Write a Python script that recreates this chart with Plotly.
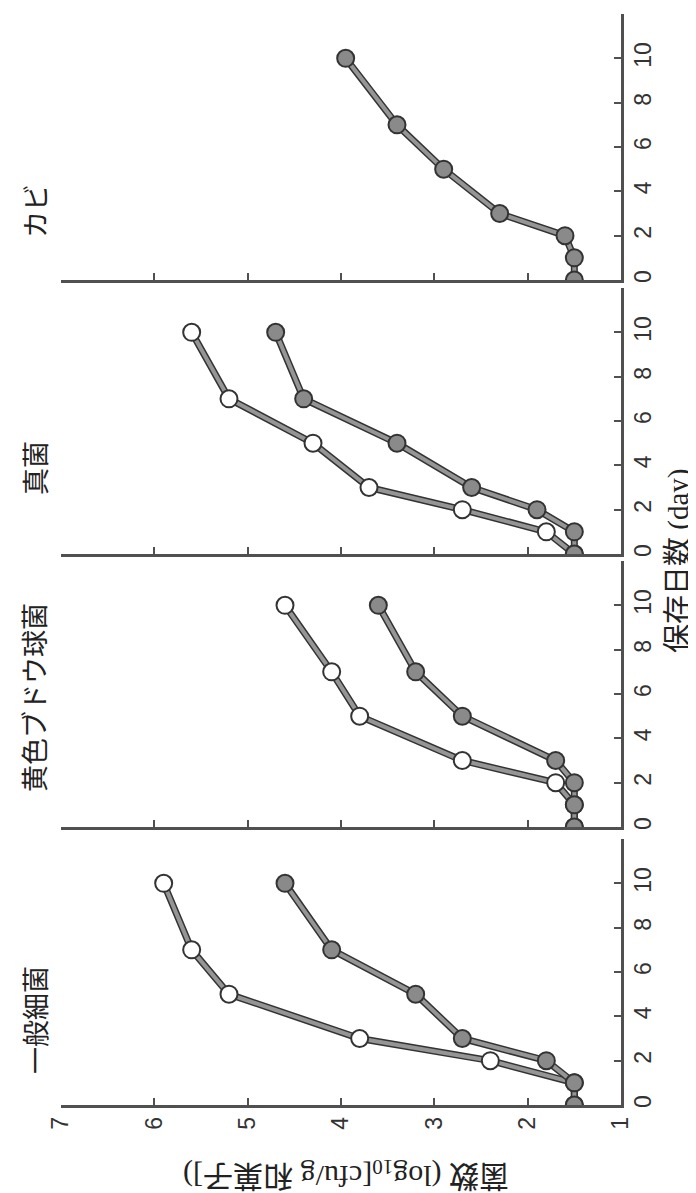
import plotly.graph_objects as go

# ---- data ----
days = [0, 1, 2, 3, 5, 7, 10]
panel_titles = ["一般細菌", "黄色ブドウ球菌", "真菌", "カビ"]
open_general = [1.5, 1.5, 2.4, 3.8, 5.2, 5.6, 5.9]
filled_general = [1.5, 1.5, 1.8, 2.7, 3.2, 4.1, 4.6]
open_staph = [1.5, 1.5, 1.7, 2.7, 3.8, 4.1, 4.6]
filled_staph = [1.5, 1.5, 1.5, 1.7, 2.7, 3.2, 3.6]
open_fungi = [1.5, 1.8, 2.7, 3.7, 4.3, 5.2, 5.6]
filled_fungi = [1.5, 1.5, 1.9, 2.6, 3.4, 4.4, 4.7]
filled_mold = [1.5, 1.5, 1.6, 2.3, 2.9, 3.4, 3.95]
log_ticks = [1, 2, 3, 4, 5, 6, 7]
day_ticks = [0, 2, 4, 6, 8, 10]
x_title = "保存日数 (day)"
y_title = "菌数 (log<sub>10</sub>[cfu/g 和菓子])"

panels = [
    (panel_titles[0], open_general, filled_general),
    (panel_titles[1], open_staph, filled_staph),
    (panel_titles[2], open_fungi, filled_fungi),
    (panel_titles[3], None, filled_mold),
]

# ---- layout geometry (rotated view: log count horizontal, days vertical) ----
W, H = 696, 1193
ML, MR, MT, MB = 53, 83, 6, 96
PW = W - ML - MR
PH = H - MT - MB
bottom_px = [1097, 819, 546, 272]
panel_px_height = 266


def py(px):
    return (H - MB - px) / PH


AX_COL = "#505050"
EDGE = "#333333"
BAND = "#959595"
FILL = "#8a8a8a"
TICK_FONT = dict(family="Liberation Sans, Arial, sans-serif", size=23, color="#333333")
CJK = "Liberation Serif, Noto Sans CJK JP, serif"

fig = go.Figure()
layout = dict(
    width=W, height=H,
    margin=dict(l=ML, r=MR, t=MT, b=MB),
    paper_bgcolor="white", plot_bgcolor="white",
    showlegend=False,
)

annotations = []
for i, (title, op, fl) in enumerate(panels):
    k = "" if i == 0 else str(i + 1)
    xa, ya = "x" + k, "y" + k
    d0 = py(bottom_px[i])
    d1 = py(bottom_px[i] - panel_px_height)
    series = []
    if op is not None:
        series.append((op, "white"))
    series.append((fl, FILL))
    for vals, fillc in series:
        fig.add_trace(go.Scatter(x=vals, y=days, mode="lines", xaxis=xa, yaxis=ya,
                                 line=dict(color=EDGE, width=7), hoverinfo="skip"))
        fig.add_trace(go.Scatter(x=vals, y=days, mode="lines", xaxis=xa, yaxis=ya,
                                 line=dict(color=BAND, width=4), hoverinfo="skip"))
        fig.add_trace(go.Scatter(x=vals, y=days, mode="markers", xaxis=xa, yaxis=ya,
                                 marker=dict(size=17, color=fillc,
                                             line=dict(color=EDGE, width=2))))
    layout["xaxis" + k] = dict(
        domain=[0, 1], anchor=ya, range=[7, 1],
        tickmode="array", tickvals=log_ticks,
        showticklabels=(i == 0), tickangle=-90, tickfont=dict(TICK_FONT),
        showline=True, linecolor=AX_COL, linewidth=2.5,
        ticks="inside", ticklen=7, tickwidth=2, tickcolor=AX_COL,
        showgrid=False, zeroline=False,
    )
    layout["yaxis" + k] = dict(
        domain=[d0, d1], anchor=xa, range=[0, 12], side="right",
        tickmode="array", tickvals=day_ticks,
        tickangle=-90, tickfont=dict(TICK_FONT),
        showline=True, linecolor=AX_COL, linewidth=2.5,
        ticks="inside", ticklen=7, tickwidth=2, tickcolor=AX_COL,
        showgrid=False, zeroline=False,
    )

title_centers_px = [1012, 690, 460, 203]
for title, cy in zip(panel_titles, title_centers_px):
    annotations.append(dict(
        text=title, x=(26 - ML) / PW, y=py(cy), xref="paper", yref="paper",
        xanchor="center", yanchor="middle", textangle=-90, showarrow=False,
        font=dict(family="Noto Sans CJK JP", size=27, color="#222222"),
    ))

annotations.append(dict(
    text=x_title, x=(670 - ML) / PW, y=py(553), xref="paper", yref="paper",
    xanchor="center", yanchor="middle", textangle=-90, showarrow=False,
    font=dict(family=CJK, size=29, color="#222222"),
))
annotations.append(dict(
    text=y_title, x=(338 - ML) / PW, y=py(1166), xref="paper", yref="paper",
    xanchor="center", yanchor="middle", textangle=180, showarrow=False,
    font=dict(family=CJK, size=30, color="#222222"),
))
layout["annotations"] = annotations
fig.update_layout(**layout)
fig.write_html("out.html")
